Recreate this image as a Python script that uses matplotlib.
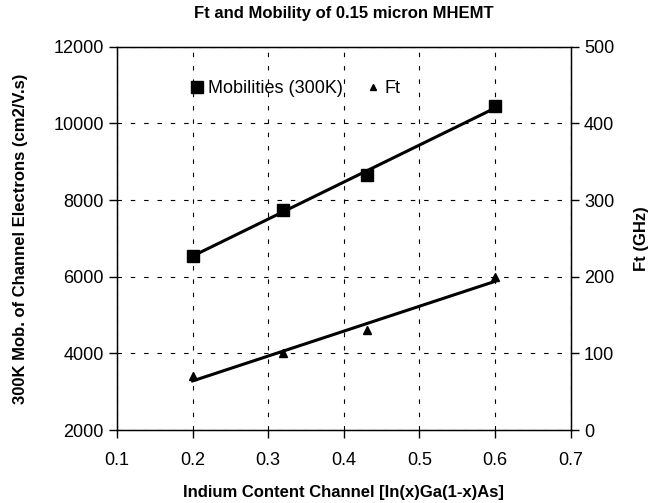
import numpy as np
import matplotlib
matplotlib.use("Agg")
import matplotlib.pyplot as plt
from matplotlib.lines import Line2D

plt.rcParams['font.family'] = ['Liberation Sans', 'DejaVu Sans']

indium = [0.2, 0.32, 0.43, 0.6]
mobility = [6550, 7750, 8650, 10450]
ft = [70, 100, 130, 200]

fig = plt.figure(figsize=(6.5, 5.03), dpi=100)
ax = fig.add_axes([0.18, 0.145, 0.698, 0.762])
ax2 = ax.twinx()

xx = np.array([min(indium), max(indium)])
pm = np.polyfit(indium, mobility, 1)
pf = np.polyfit(indium, ft, 1)

ax.plot(xx, np.polyval(pm, xx), color='black', lw=2.2, zorder=3)
ax.plot(indium, mobility, 's', color='black', ms=9, zorder=4, linestyle='none')
ax2.plot(xx, np.polyval(pf, xx), color='black', lw=2.2, zorder=3)
ax2.plot(indium, ft, '^', color='black', ms=6, zorder=4, linestyle='none')

ax.set_xlim(0.1, 0.7)
ax.set_ylim(2000, 12000)
ax2.set_ylim(0, 500)
ax.set_xticks(np.arange(0.1, 0.71, 0.1))
ax.set_xticklabels(['0.1', '0.2', '0.3', '0.4', '0.5', '0.6', '0.7'])
ax.set_yticks(range(2000, 12001, 2000))
ax2.set_yticks(range(0, 501, 100))

ax.grid(True, color='black', linestyle=(0, (4, 8)), lw=0.8)
for s in ax.spines.values():
    s.set_linewidth(1.0)
for a in (ax, ax2):
    a.tick_params(direction='out', length=6, width=1, labelsize=13, colors='black')
ax.tick_params(axis='x', pad=10)

ax.set_title('Ft and Mobility of 0.15 micron MHEMT', fontsize=12, fontweight='bold', pad=21)
ax.set_xlabel('Indium Content Channel [In(x)Ga(1-x)As]', fontsize=12, fontweight='bold', labelpad=11)
ax.set_ylabel('300K Mob. of Channel Electrons (cm2/V.s)', fontsize=12, fontweight='bold', labelpad=18)
ax2.set_ylabel('Ft (GHz)', fontsize=12, fontweight='bold', labelpad=14)

handles = [Line2D([], [], marker='s', color='black', ls='none', ms=9),
           Line2D([], [], marker='^', color='black', ls='none', ms=5)]
ax.legend(handles, ['Mobilities (300K)', 'Ft'], ncol=2, frameon=False,
          loc='center', bbox_to_anchor=(0.39, 0.89), fontsize=13,
          handletextpad=0.1, columnspacing=1.2, handlelength=1.0)

fig.savefig('out.png', dpi=100)
